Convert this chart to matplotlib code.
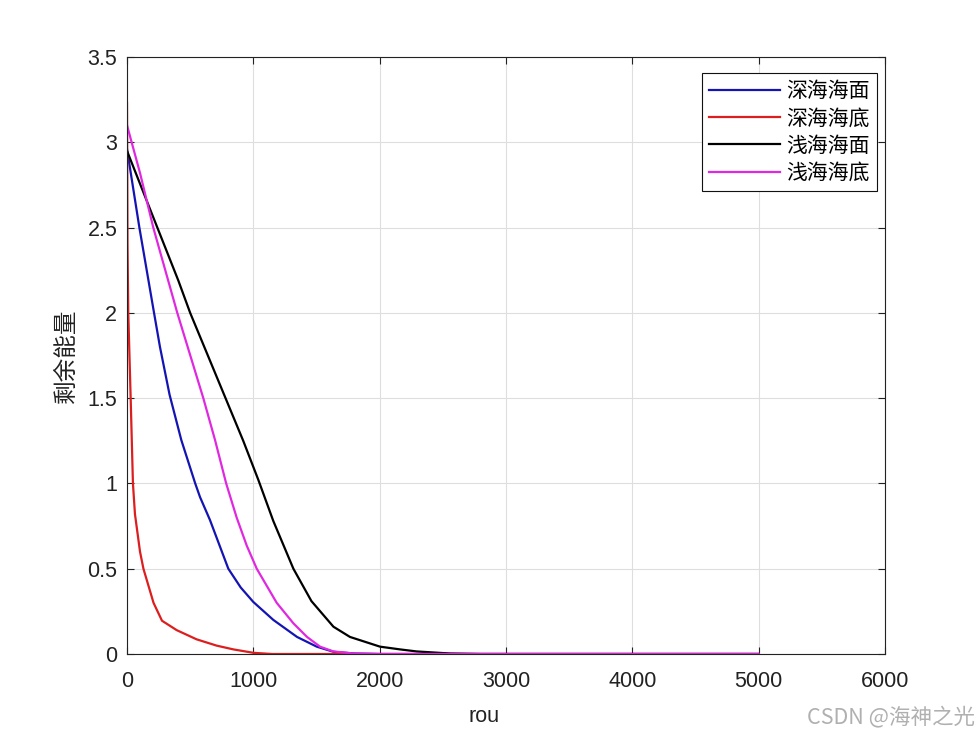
import matplotlib
matplotlib.use("Agg")
import matplotlib.pyplot as plt

plt.rcParams['font.family'] = ['Liberation Sans', 'Noto Sans CJK SC', 'DejaVu Sans']

# --- data ---
labels = ['深海海面', '深海海底', '浅海海面', '浅海海底']
colors = ['#1414b4', '#dc1e1e', '#000000', '#e028e0']

deep_top_x = [0, 98, 214, 261, 337, 430, 540, 578, 657, 802, 900, 1000, 1158, 1346, 1502, 1634, 1800, 2000, 5000]
deep_top_y = [2.96, 2.50, 2.00, 1.80, 1.52, 1.254, 1.00, 0.92, 0.785, 0.50, 0.39, 0.305, 0.20, 0.10, 0.043, 0.013, 0.003, 0.0, 0.0]

deep_bot_x = [0, 4, 10, 29, 47, 63, 103, 130, 210, 277, 393, 551, 710, 842, 1000, 1150, 5000]
deep_bot_y = [3.23, 2.40, 2.00, 1.50, 1.00, 0.82, 0.60, 0.50, 0.30, 0.195, 0.14, 0.086, 0.049, 0.027, 0.007, 0.0, 0.0]

shallow_top_x = [0, 176, 406, 500, 780, 920, 1040, 1158, 1317, 1460, 1634, 1765, 2003, 2161, 2293, 2557, 2800, 5000]
shallow_top_y = [2.95, 2.62, 2.19, 2.00, 1.50, 1.25, 1.02, 0.78, 0.50, 0.31, 0.16, 0.10, 0.043, 0.027, 0.015, 0.003, 0.0, 0.0]

shallow_bot_x = [0, 103, 208, 398, 604, 697, 785, 868, 948, 1027, 1185, 1317, 1425, 1528, 1634, 1790, 2000, 5000]
shallow_bot_y = [3.10, 2.82, 2.50, 2.00, 1.50, 1.254, 1.00, 0.80, 0.635, 0.50, 0.30, 0.18, 0.10, 0.043, 0.015, 0.003, 0.0, 0.0]

xticks = [0, 1000, 2000, 3000, 4000, 5000, 6000]
yticks = [0, 0.5, 1, 1.5, 2, 2.5, 3, 3.5]
ytick_labels = ['0', '0.5', '1', '1.5', '2', '2.5', '3', '3.5']

# --- figure ---
fig = plt.figure(figsize=(9.8, 7.35), dpi=100)
ax = fig.add_axes([127 / 980, 81 / 735, 758 / 980, 597 / 735])

series = [(deep_top_x, deep_top_y), (deep_bot_x, deep_bot_y),
          (shallow_top_x, shallow_top_y), (shallow_bot_x, shallow_bot_y)]
for (xs, ys), lab, c in zip(series, labels, colors):
    ax.plot(xs, ys, color=c, linewidth=1.6, label=lab)

ax.set_xlim(0, 6000)
ax.set_ylim(0, 3.5)
ax.set_xticks(xticks)
ax.set_yticks(yticks)
ax.set_yticklabels(ytick_labels)
ax.grid(True, color='#dedede', linewidth=0.8)
ax.set_axisbelow(True)
ax.tick_params(direction='in', length=5, width=0.8, top=True, right=True,
               labelsize=15.5, colors='#222222')
ax.tick_params(axis='x', pad=12)
ax.tick_params(axis='y', pad=7)
for s in ax.spines.values():
    s.set_linewidth(0.8)
    s.set_color('#222222')

ax.set_ylabel('剩余能量', fontsize=17, family=['Noto Sans CJK SC'], color='#222222')
ax.yaxis.set_label_coords((78 - 127) / 758, 0.5)
ax.set_xlabel('rou', fontsize=15.5, ha='left', va='center', color='#222222')
ax.xaxis.set_label_coords((468 - 127) / 758, (654 - 716) / 597)

leg = ax.legend(loc='upper right', bbox_to_anchor=((877 - 127) / 758, (654 - 73) / 597),
                borderaxespad=0, fancybox=False, framealpha=1, edgecolor='#111111',
                prop={'family': ['Noto Sans CJK SC'], 'size': 15},
                handlelength=3.4, handletextpad=0.3, labelspacing=0.25,
                borderpad=0.35)
leg.get_frame().set_linewidth(0.8)

fig.text(975 / 980, 1 - 718 / 735, 'CSDN @海神之光', ha='right', va='center',
         fontsize=15.5, color='#b0b0b0', family=['Noto Sans CJK SC'])

fig.savefig('out.png', dpi=100, facecolor='white')
